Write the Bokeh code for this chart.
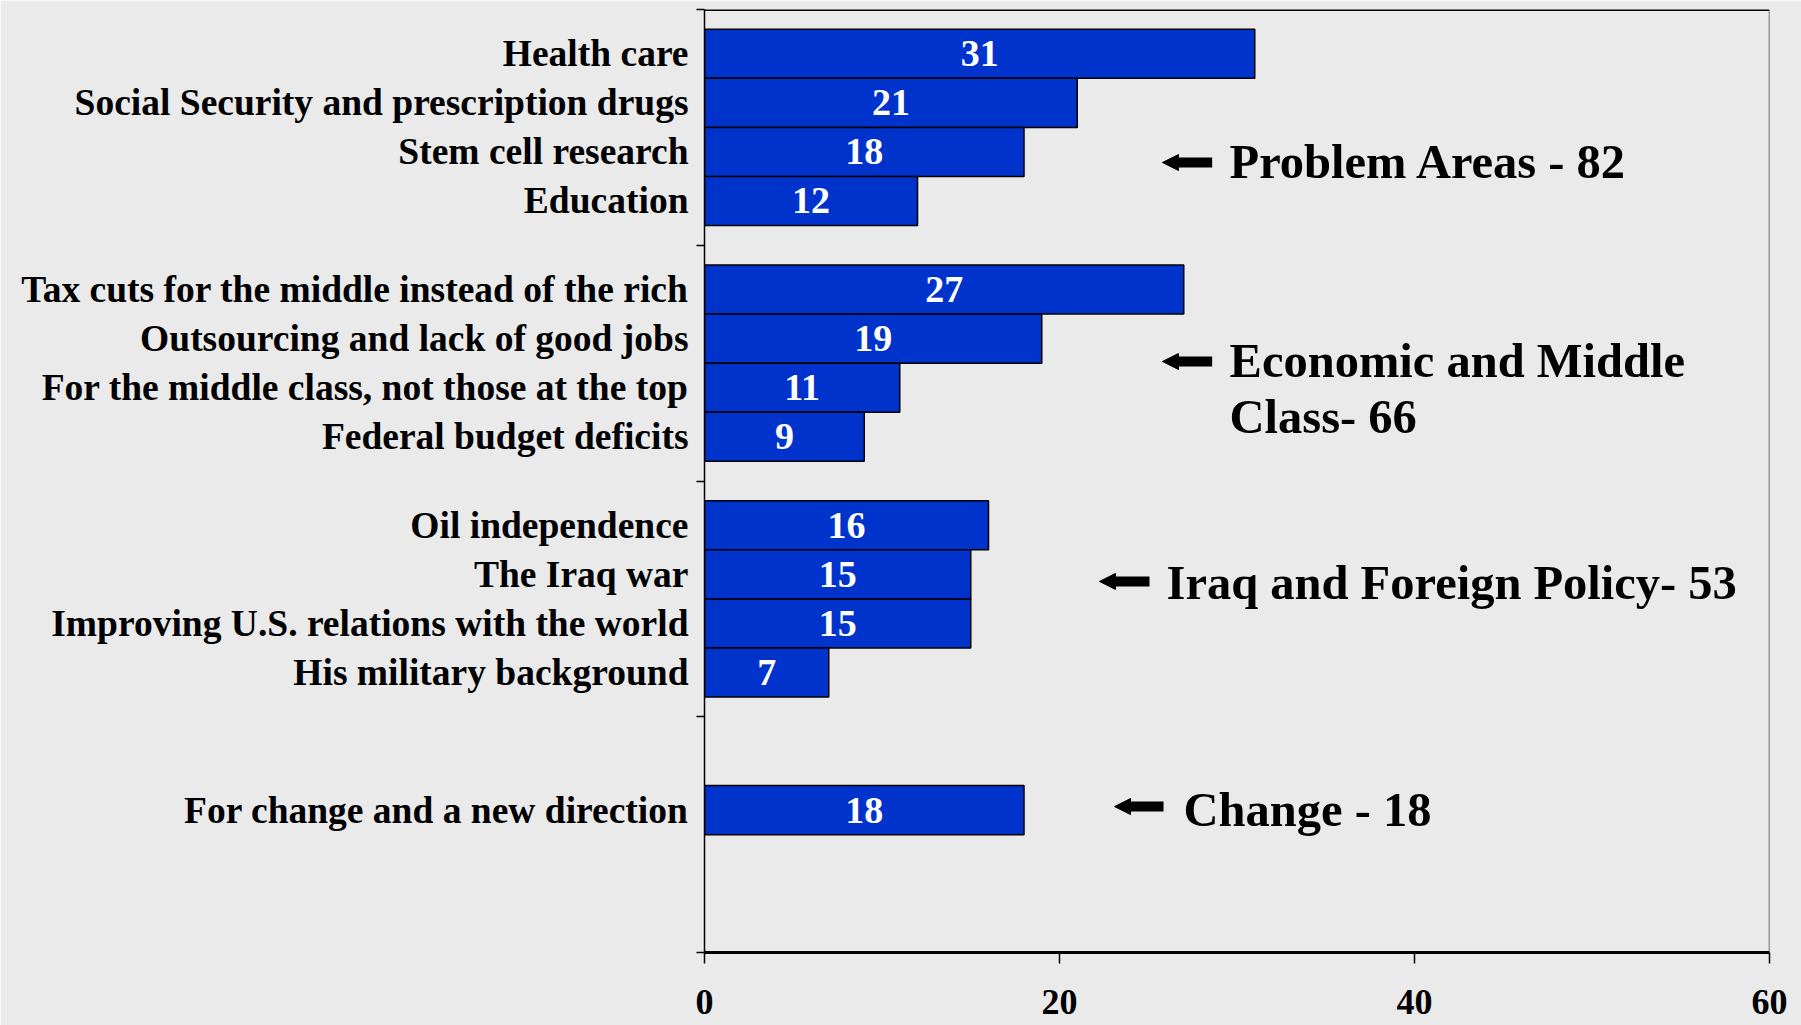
from bokeh.plotting import figure
from bokeh.models import (Range1d, FixedTicker, Label, Arrow, NormalHead,
                          Span, ColumnDataSource, LabelSet)
from bokeh.core.properties import value
from bokeh.embed import file_html
from bokeh.resources import INLINE

# ---------------- data ----------------
problem_cats = ["Health care", "Social Security and prescription drugs",
                "Stem cell research", "Education"]
problem_vals = [31, 21, 18, 12]

economic_cats = ["Tax cuts for the middle instead of the rich",
                 "Outsourcing and lack of good jobs",
                 "For the middle class, not those at the top",
                 "Federal budget deficits"]
economic_vals = [27, 19, 11, 9]

iraq_cats = ["Oil independence", "The Iraq war",
             "Improving U.S. relations with the world", "His military background"]
iraq_vals = [16, 15, 15, 7]

change_cats = ["For change and a new direction"]
change_vals = [18]

group_notes = [["Problem Areas - 82"],
               ["Economic and Middle", "Class- 66"],
               ["Iraq and Foreign Policy- 53"],
               ["Change - 18"]]

x_ticks = [0, 20, 40, 60]

# ---------------- layout ----------------
BG = "#EAEAEA"
BLUE = "#0033CC"
FONT = "Liberation Serif"
BAR_H = 0.208
slot_start = [0, 0, 0, 1]

groups = [(problem_cats, problem_vals), (economic_cats, economic_vals),
          (iraq_cats, iraq_vals), (change_cats, change_vals)]

ys, vals, cats = [], [], []
for g, (c, v) in enumerate(groups):
    center = 3.5 - g
    for i, (cc, vv) in enumerate(zip(c, v)):
        s = slot_start[g] + i
        ys.append(round(center + (1.5 - s) * BAR_H, 4))
        vals.append(vv)
        cats.append(cc)

src = ColumnDataSource(dict(y=ys, v=vals, mid=[x / 2 for x in vals],
                            txt=[str(x) for x in vals],
                            zero=[0] * len(vals)))

p = figure(width=1801, height=1025, x_range=Range1d(0, 60), y_range=Range1d(0, 4),
           output_backend="svg", toolbar_location=None,
           min_border_left=704, min_border_right=32, min_border_top=9,
           min_border_bottom=73, background_fill_color=BG, border_fill_color=BG,
           outline_line_color=None)
p.xgrid.grid_line_color = None
p.ygrid.grid_line_color = None

xa = p.xaxis[0]
xa.ticker = FixedTicker(ticks=x_ticks)
xa.axis_line_width = 3
xa.axis_line_color = "black"
xa.major_tick_out = 11
xa.major_tick_in = 0
xa.major_tick_line_width = 1.5
xa.minor_tick_line_color = None
xa.major_label_text_font = FONT
xa.major_label_text_font_style = "bold"
xa.major_label_text_font_size = "36px"
xa.major_label_text_color = "black"
xa.major_label_text_line_height = 0.6
xa.major_label_standoff = 26

# y axis: category names as major labels at bar centres, group boundaries as minor ticks
ya = p.yaxis[0]
ya.ticker = FixedTicker(ticks=ys, minor_ticks=[0, 1, 2, 3, 4])
ya.major_label_overrides = {yy: cc for yy, cc in zip(ys, cats)}
ya.axis_line_width = 1.5
ya.axis_line_color = "black"
ya.major_tick_line_color = None
ya.major_tick_out = 0
ya.major_tick_in = 0
ya.minor_tick_out = 8
ya.minor_tick_in = 0
ya.minor_tick_line_width = 1.5
ya.minor_tick_line_color = "black"
ya.major_label_standoff = 8
ya.major_label_text_font = FONT
ya.major_label_text_font_style = "bold"
ya.major_label_text_font_size = "37.5px"
ya.major_label_text_color = "black"

p.add_layout(Span(location=4, dimension="width", line_color="black", line_width=3))
p.add_layout(Span(location=60, dimension="height", line_color="#444444", line_width=1.5))

p.hbar(y="y", left="zero", right="v", height=BAR_H, source=src,
       fill_color=BLUE, line_color="black", line_width=1.5)

p.add_layout(LabelSet(x="mid", y="y", text="txt", source=src,
                      text_color="white", text_font=value(FONT),
                      text_font_style="bold", text_font_size="38px",
                      text_align="center", text_baseline="middle"))

# group annotations: arrow (x_start, x_end, y), text x, text ys
notes_layout = [
    (28.6, 25.8, 3.351, 29.58, [3.355]),
    (28.6, 25.8, 2.507, 29.58, [2.511, 2.274]),
    (25.07, 22.25, 1.574, 26.03, [1.569]),
    (25.86, 23.1, 0.619, 26.99, [0.607]),
]
for (xs, xe, ay, tx, tys), lines in zip(notes_layout, group_notes):
    p.add_layout(Arrow(x_start=xs, y_start=ay, x_end=xe, y_end=ay,
                       line_width=10, line_color="black",
                       end=NormalHead(size=16, fill_color="black", line_color="black",
                                      line_width=1)))
    for ty, t in zip(tys, lines):
        p.add_layout(Label(x=tx, y=ty, text=t, text_font=FONT,
                           text_font_style="bold", text_font_size="48.5px",
                           text_color="black", text_align="left",
                           text_baseline="middle"))

open("out.html", "w").write(file_html(p, INLINE))
